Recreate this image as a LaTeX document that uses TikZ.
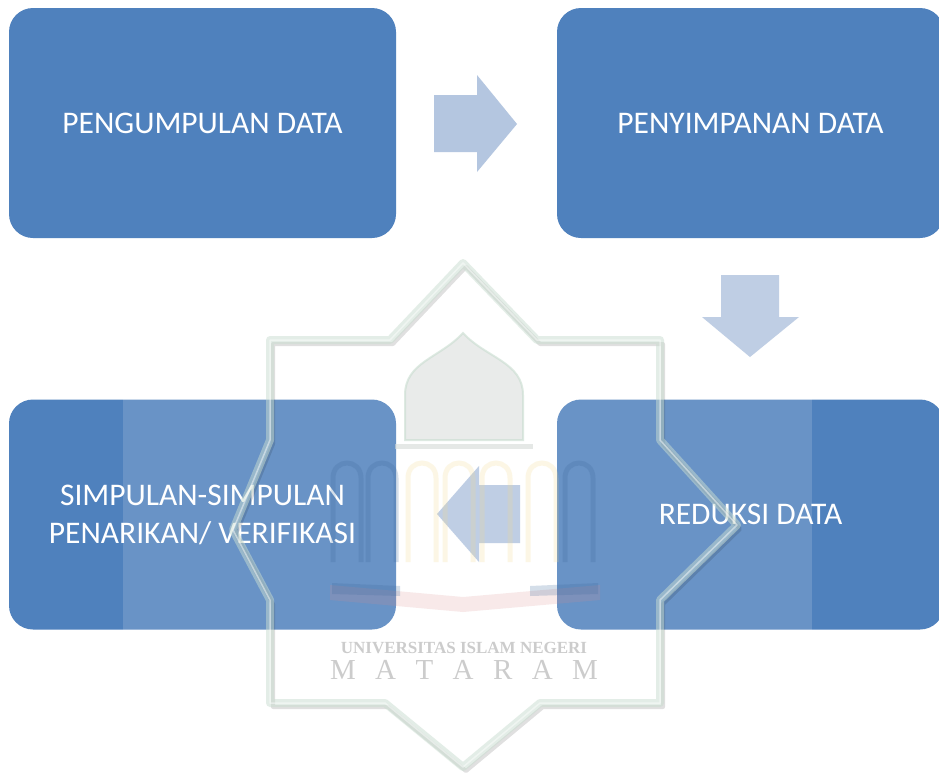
\documentclass[tikz,border=0pt]{standalone}
\usepackage{fontspec}
\setmainfont{Carlito}
\newfontfamily\wmfont{Liberation Serif}
\definecolor{boxblue}{HTML}{4F81BD}
\definecolor{arrowblue}{HTML}{B4C6E0}
\definecolor{bandgreen}{HTML}{C9DDD0}
\definecolor{domegray}{HTML}{D5D9D6}
\definecolor{pillarblue}{HTML}{3F6A9C}
\definecolor{pillaryellow}{HTML}{F2D98C}
\definecolor{bookred}{HTML}{D98A8A}
\definecolor{wmtext}{HTML}{CCCCCC}
\begin{document}
\begin{tikzpicture}[x=1pt,y=-1pt,
  stagebox/.style={rectangle, rounded corners=24pt, fill=boxblue, minimum width=387pt,
    minimum height=230pt, inner sep=0pt, text=white, align=center,
    font=\fontsize{31.5}{38}\selectfont},
  blockarrow/.style={fill=arrowblue},
  band/.style={draw=bandgreen, line width=8pt, line join=round, opacity=0.5},
  bandshadow/.style={draw=black, line width=4pt, line join=round, opacity=0.12},
  bandlight/.style={draw=white, line width=1.5pt, line join=round, opacity=0.45},
  archframe/.style={line width=5pt, opacity=0.22},
  wmfontsmall/.style={font=\wmfont\bfseries\fontsize{17}{17}\selectfont, text=wmtext, inner sep=0pt},
  wmfontbig/.style={font=\wmfont\fontsize{29}{29}\selectfont, text=wmtext, inner sep=0pt}]
\useasboundingbox (0,0) rectangle (939,772);
\clip (0,0) rectangle (939,772);
\fill[white] (0,0) rectangle (939,772);

% stages
\node[stagebox] (collect) at (202.5,123) {PENGUMPULAN DATA};
\node[stagebox] (store) at (750.5,123) {PENYIMPANAN DATA};
\node[stagebox] (reduce) at (750.5,514.5) {REDUKSI DATA};
\node[stagebox] (conclude) at (202.5,514.5) {SIMPULAN-SIMPULAN\\PENARIKAN/ VERIFIKASI};

% block arrows
\fill[blockarrow] (434,95) -- (477,95) -- (477,75) -- (517,124) -- (477,172) -- (477,152) -- (434,152) -- cycle;
\fill[blockarrow] (721,275) -- (779,275) -- (779,317) -- (799,317) -- (750,357) -- (702,317) -- (721,317) -- cycle;
\fill[blockarrow] (520,485) -- (479,485) -- (479,466) -- (437,514) -- (479,562) -- (479,543) -- (520,543) -- cycle;

% watermark
\fill[white, opacity=0.15] (123,255) rectangle (812,772);
% dome
\filldraw[fill=domegray, draw=bandgreen, line width=2pt, fill opacity=0.5, draw opacity=0.6]
  (405,440) -- (405,395) .. controls (405,362) and (440,358) .. (463,333)
  .. controls (486,358) and (523,362) .. (523,395) -- (523,440) -- cycle;
\draw[domegray, line width=5pt, opacity=0.6] (395,446) -- (533,446);
% pillars
\foreach \xa/\col in {333/pillarblue, 368/pillarblue, 408/pillaryellow, 445/pillaryellow, 482/pillaryellow, 528/pillaryellow, 565/pillarblue}{
  \draw[archframe, \col] (\xa,562) -- (\xa,478) .. controls (\xa,458) and (\xa+28,458) .. (\xa+28,478) -- (\xa+28,562);
}
% book
\fill[bookred, opacity=0.18] (330,585) -- (463,597) -- (600,585) -- (600,600) -- (463,612) -- (330,600) -- cycle;
\fill[pillarblue, opacity=0.22] (332,583) -- (400,586) -- (400,596) -- (332,594) -- cycle;
\fill[pillarblue, opacity=0.22] (530,586) -- (598,583) -- (598,594) -- (530,596) -- cycle;
% star band
\draw[bandshadow] ([shift={(3,4)}]463,263) -- ([shift={(3,4)}]537,340) -- ([shift={(3,4)}]660,340) -- ([shift={(3,4)}]660,440) -- ([shift={(3,4)}]737,525) -- ([shift={(3,4)}]660,600) -- ([shift={(3,4)}]660,703) -- ([shift={(3,4)}]540,703) -- ([shift={(3,4)}]463,767) -- ([shift={(3,4)}]385,703) -- ([shift={(3,4)}]270,703) -- ([shift={(3,4)}]270,600) -- ([shift={(3,4)}]233,530) -- ([shift={(3,4)}]270,440) -- ([shift={(3,4)}]270,340) -- ([shift={(3,4)}]390,340) -- cycle;
\draw[band] (463,263) -- (537,340) -- (660,340) -- (660,440) -- (737,525) -- (660,600) -- (660,703) -- (540,703) -- (463,767) -- (385,703) -- (270,703) -- (270,600) -- (233,530) -- (270,440) -- (270,340) -- (390,340) -- cycle;
\draw[bandlight] (463,263) -- (537,340) -- (660,340) -- (660,440) -- (737,525) -- (660,600) -- (660,703) -- (540,703) -- (463,767) -- (385,703) -- (270,703) -- (270,600) -- (233,530) -- (270,440) -- (270,340) -- (390,340) -- cycle;
% watermark text
\node[wmfontsmall] (uni) at (464,648) {UNIVERSITAS ISLAM NEGERI};
\node[wmfontbig] (mataram) at (464,670) {\makebox[268pt]{M\hfill A\hfill T\hfill A\hfill R\hfill A\hfill M}};
\end{tikzpicture}
\end{document}
